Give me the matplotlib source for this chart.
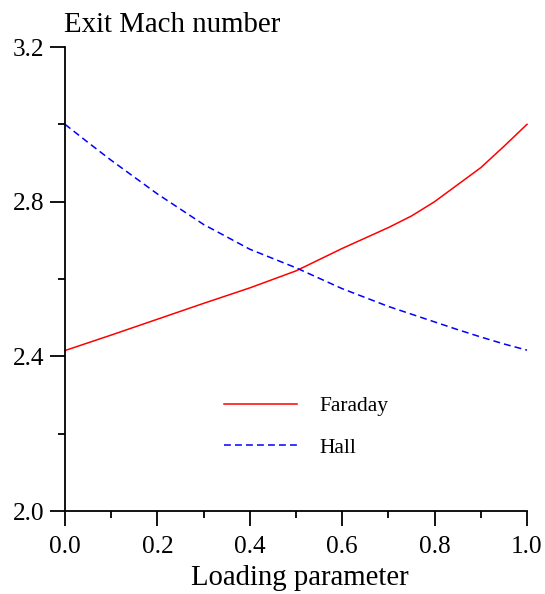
import numpy as np
import matplotlib
matplotlib.use('Agg')
import matplotlib.pyplot as plt
from matplotlib.ticker import MultipleLocator, FormatStrFormatter

# loading parameter and exit Mach number for the two generator types
load = [0.0, 0.05, 0.1, 0.2, 0.3, 0.4, 0.5, 0.6, 0.7, 0.75, 0.8, 0.85, 0.9, 0.95, 1.0]
mach_faraday = [2.415, 2.435, 2.455, 2.496, 2.537, 2.577, 2.621, 2.679, 2.733, 2.763,
                2.800, 2.844, 2.888, 2.943, 3.000]
mach_hall = [3.000, 2.953, 2.907, 2.820, 2.741, 2.677, 2.629, 2.575, 2.529, 2.509,
             2.489, 2.469, 2.450, 2.432, 2.416]

plt.rcParams['font.family'] = ['Liberation Serif', 'DejaVu Serif']

W, H = 545, 594
fig = plt.figure(figsize=(W/100, H/100), dpi=100)
ax = fig.add_axes([65/W, 1-511/H, 462/W, 464/H])

ax.plot(load, mach_faraday, color='#ff0000', lw=1.1, label='Faraday')
line, = ax.plot(load, mach_hall, color='#0000ff', lw=1.1, label='Hall')
line.set_dashes((4.5, 2.7))

ax.set_xlim(0, 1)
ax.set_ylim(2.0, 3.2)
ax.spines['top'].set_visible(False)
ax.spines['right'].set_visible(False)
for s in ['left', 'bottom']:
    ax.spines[s].set_linewidth(1.3)

ax.xaxis.set_major_locator(MultipleLocator(0.2))
ax.xaxis.set_minor_locator(MultipleLocator(0.1))
ax.yaxis.set_major_locator(MultipleLocator(0.4))
ax.yaxis.set_minor_locator(MultipleLocator(0.2))
ax.xaxis.set_major_formatter(FormatStrFormatter('%.1f'))
ax.yaxis.set_major_formatter(FormatStrFormatter('%.1f'))
ax.tick_params(which='major', direction='out', length=11, width=1.3, labelsize=18.2)
ax.tick_params(which='minor', direction='out', length=5, width=1.3)
ax.tick_params(axis='x', which='major', pad=7)
ax.tick_params(axis='y', which='major', pad=4)
for l in ax.lines:
    l.set_clip_on(False)

fig.text(64/W, 1-32/H, 'Exit Mach number', fontsize=20.8, ha='left', va='baseline')
fig.text(300/W, 1-585/H, 'Loading parameter', fontsize=20.7, ha='center', va='baseline')

ax.legend(loc='center left', bbox_to_anchor=(224/W, 1-427/H), bbox_transform=fig.transFigure,
          frameon=False, fontsize=15.5, handlelength=3.4, handletextpad=1.05,
          labelspacing=1.0, borderpad=0, borderaxespad=0)

fig.savefig('out.png', dpi=100)
